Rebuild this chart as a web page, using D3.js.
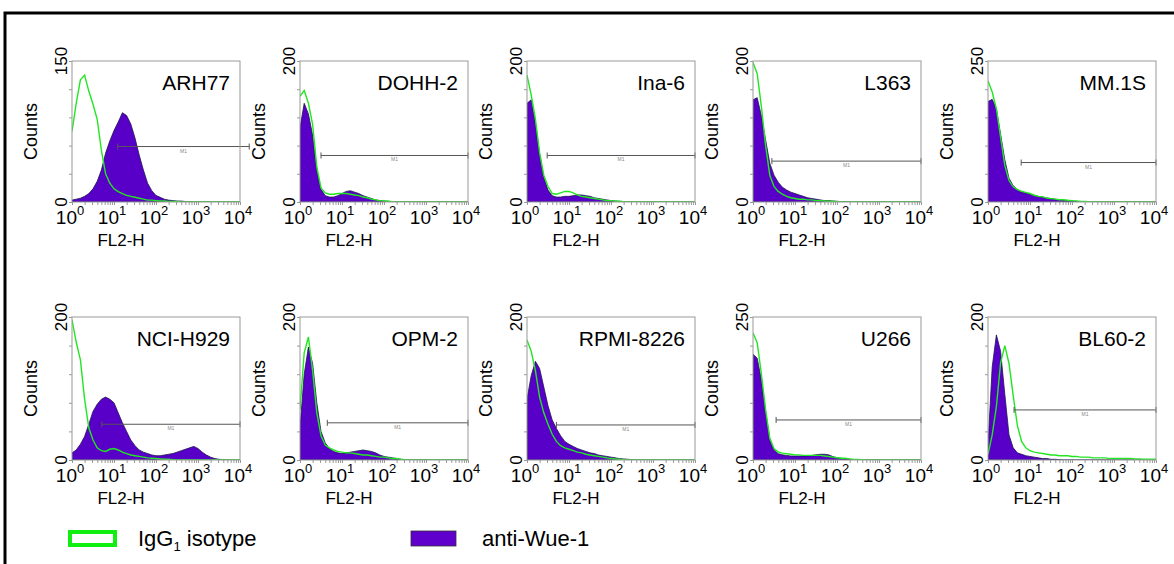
<!DOCTYPE html>
<html>
<head>
<meta charset="utf-8">
<script src="https://d3js.org/d3.v7.min.js"></script>
<style>
  body { margin: 0; background: #fff; }
  text { font-family: "Liberation Sans", Arial, sans-serif; fill: #000; }
</style>
</head>
<body>
<div id="vis"></div>
<script>
const width = 1174;
const height = 564;

const cellLines = ["ARH77", "DOHH-2", "Ina-6", "L363", "MM.1S", "NCI-H929", "OPM-2", "RPMI-8226", "U266", "BL60-2"];
const countMax = [150, 200, 200, 200, 250, 200, 200, 200, 250, 200];
// M1 marker: start / end in decades, height in counts
const gateFrom = [1.09, 0.5, 0.48, 0.45, 0.79, 0.71, 0.65, 0.7, 0.55, 0.62];
const gateTo = [4.22, 4, 4, 4, 4, 4, 4, 4, 4, 4];
const gateLevel = [59, 66, 66, 58, 70, 50, 52, 49, 70, 70];
const decadeLabels = ["0", "1", "2", "3", "4"];
const binStep = 0.1; // one count every 0.1 decade, 10^0 .. 10^4

// IgG1 isotype (green line) and anti-Wue-1 (purple fill), counts per channel
const isoARH77 = [75,105,130,135,118,104,88,55,30,20, 14,11,9,7,6,5,4,3,2,2, 1.5,1,1,0.5,0.5,0.5,0,0,0,0, 0,0,0,0,0,0,0,0,0,0, 0];
const wueARH77 = [2,3,4,6,9,14,22,34,52,65, 76,85,95,92,83,68,50,34,20,12, 7,5,3,2,1.5,1,1,0.5,0.5,0, 0,0,0,0,0,0,0,0,0,0, 0];
const isoDOHH2 = [150,158,140,110,50,20,13,11,11,12, 12,12,11,10,9,7,6,4,3,2, 1.5,1,0.5,0,0,0,0,0,0,0, 0,0,0,0,0,0,0,0,0,0, 0];
const wueDOHH2 = [105,140,125,95,45,18,9,7,7,9, 12,15,16,14,12,9,7,5,3,2, 1.5,1,0.5,0,0,0,0,0,0,0, 0,0,0,0,0,0,0,0,0,0, 0];
const isoIna6 = [180,152,118,70,38,22,12,11,13,15, 15,13,10,8,7,6,5,4,3,2, 2,1,1,0.5,0,0,0,0,0,0, 0,0,0,0,0,0,0,0,0,0, 0];
const wueIna6 = [140,145,112,68,35,17,9,7,7,8, 8,9,10,10,9,8,6,5,4,3, 2,1.5,1,0.5,0,0,0,0,0,0, 0,0,0,0,0,0,0,0,0,0, 0];
const isoL363 = [198,182,135,80,38,22,15,11,8,6, 5,4,4,3,3,2,2,1.5,1,1, 0.5,0,0,0,0,0,0,0,0,0, 0,0,0,0,0,0,0,0,0,0, 0];
const wueL363 = [145,148,122,88,55,38,28,21,17,14, 12,10,8,6,5,4,3,2,2,1.5, 1,0.5,0.5,0,0,0,0,0,0,0, 0,0,0,0,0,0,0,0,0,0, 0];
const isoMM1S = [215,195,165,115,65,38,27,22,19,17, 15,12,10,9,7,6,5,4,4,3, 2,2,1,1,0.5,0,0,0,0,0, 0,0,0,0,0,0,0,0,0,0, 0];
const wueMM1S = [178,182,165,120,75,42,29,22,18,16, 14,12,10,9,7,6,5,4,3,2, 2,1,1,0.5,0,0,0,0,0,0, 0,0,0,0,0,0,0,0,0,0, 0];
const isoH929 = [196,165,140,85,45,28,17,13,12,15, 16,14,11,9,7,6,5,4,3,2.5, 2,1.5,1,1,0.5,0,0,0,0,0, 0,0,0,0,0,0,0,0,0,0, 0];
const wueH929 = [10,14,22,33,50,68,78,85,88,85, 80,66,52,40,28,20,14,11,9,7, 6,6,7,8,9,11,13,15,17,19, 16,11,7,4,2,1,0.5,0,0,0, 0];
const isoOPM2 = [70,150,172,125,66,34,21,17,14,12, 11,10,10,9,8,7,7,6,5,4, 4,3,2,2,1,0.5,0,0,0,0, 0,0,0,0,0,0,0,0,0,0, 0];
const wueOPM2 = [45,120,158,135,80,40,24,16,12,10, 9,10,11,12,13,14,13,12,10,7, 5,4,3,2,1,0.5,0,0,0,0, 0,0,0,0,0,0,0,0,0,0, 0];
const isoRPMI = [168,152,125,88,66,50,36,26,20,17, 15,13,11,10,8,7,6,5,4,3, 2,1.5,1,0.5,0,0,0,0,0,0, 0,0,0,0,0,0,0,0,0,0, 0];
const wueRPMI = [85,118,138,128,102,76,56,44,34,26, 22,19,16,14,12,10,9,7,6,5, 4,3,2,1.5,1,0.5,0,0,0,0, 0,0,0,0,0,0,0,0,0,0, 0];
const isoU266 = [222,205,150,88,38,20,14,12,11,10, 9,9,8,8,8,8,8,7,6,5, 4,3,3,2,1,1,0.5,0,0,0, 0,0,0,0,0,0,0,0,0,0, 0];
const wueU266 = [185,178,140,85,36,18,11,9,8,7, 7,7,7,7,8,9,10,10,9,6, 4,3,2,1,0.5,0,0,0,0,0, 0,0,0,0,0,0,0,0,0,0, 0];
const isoBL602 = [8,35,75,136,160,135,90,48,26,17, 13,11,10,9,8,7,7,6,6,6, 5,5,4,4,4,3,3,3,3,2, 2,2,2,2,2,1.5,1.5,1,1,1, 1];
const wueBL602 = [20,130,175,152,92,35,17,10,8,6, 5,4,3,2,2,1,1,0.5,0,0, 0,0,0,0,0,0,0,0,0,0, 0,0,0,0,0,0,0,0,0,0, 0];

const isotypeSeries = [isoARH77, isoDOHH2, isoIna6, isoL363, isoMM1S, isoH929, isoOPM2, isoRPMI, isoU266, isoBL602];
const wueSeries = [wueARH77, wueDOHH2, wueIna6, wueL363, wueMM1S, wueH929, wueOPM2, wueRPMI, wueU266, wueBL602];

// layout of the 5 x 2 grid
const colLeft = [72, 300, 527, 753, 988];
const rowTop = [61, 317];
const rowH = [141, 143];
const plotW = 168;

const green = "#22e622";
const purple = "#5800c8";

const svg = d3.select("#vis").append("svg")
  .attr("width", width)
  .attr("height", height);

// outer frame
svg.append("rect")
  .attr("x", 5).attr("y", 13)
  .attr("width", 1200).attr("height", 600)
  .attr("fill", "none")
  .attr("stroke", "#000")
  .attr("stroke-width", 3);

cellLines.forEach(function (name, i) {
  const col = i % 5;
  const row = Math.floor(i / 5);
  const h = rowH[row];
  const g = svg.append("g")
    .attr("transform", "translate(" + colLeft[col] + "," + rowTop[row] + ")");

  const x = d3.scaleLog().domain([1, 1e4]).range([0, plotW]);
  const y = d3.scaleLinear().domain([0, countMax[i]]).range([h, 0]);

  g.append("clipPath").attr("id", "clip" + i)
    .append("rect").attr("width", plotW).attr("height", h);

  const area = d3.area()
    .x((d, j) => x(Math.pow(10, j * binStep)))
    .y0(h)
    .y1(d => y(d));
  const line = d3.line()
    .x((d, j) => x(Math.pow(10, j * binStep)))
    .y(d => y(d));

  const plot = g.append("g").attr("clip-path", "url(#clip" + i + ")");
  plot.append("path")
    .attr("d", area(wueSeries[i]))
    .attr("fill", purple)
    .attr("stroke", "#1c1450")
    .attr("stroke-width", 0.8);
  plot.append("path")
    .attr("d", line(isotypeSeries[i]))
    .attr("fill", "none")
    .attr("stroke", green)
    .attr("stroke-width", 1.4);

  // M1 marker
  const gx0 = x(Math.pow(10, gateFrom[i]));
  const gx1 = x(Math.pow(10, gateTo[i]));
  const gy = y(gateLevel[i]);
  const gate = g.append("g").attr("stroke", "#555").attr("stroke-width", 1);
  gate.append("line").attr("x1", gx0).attr("x2", gx1).attr("y1", gy).attr("y2", gy);
  gate.append("line").attr("x1", gx0).attr("x2", gx0).attr("y1", gy - 3).attr("y2", gy + 3);
  gate.append("line").attr("x1", gx1).attr("x2", gx1).attr("y1", gy - 3).attr("y2", gy + 3);
  g.append("text")
    .attr("x", (gx0 + gx1) / 2).attr("y", gy + 6)
    .attr("text-anchor", "middle")
    .style("font-size", "5px")
    .style("fill", "#888")
    .text("M1");

  // minor ticks
  const xAxis = g.append("g")
    .attr("transform", "translate(0," + h + ")")
    .call(d3.axisBottom(x).tickValues(x.ticks()).tickSize(3).tickFormat(""));
  const yAxis = g.append("g")
    .call(d3.axisLeft(y).tickValues(d3.range(0, countMax[i] + 1, countMax[i] / 5)).tickSize(3).tickFormat(""));
  [xAxis, yAxis].forEach(a => {
    a.select(".domain").remove();
    a.selectAll("line").attr("stroke", "#999");
  });

  // box
  g.append("rect")
    .attr("width", plotW).attr("height", h)
    .attr("fill", "none")
    .attr("stroke", "#999")
    .attr("stroke-width", 1);

  // decade labels
  decadeLabels.forEach(function (e, k) {
    const t = g.append("text")
      .attr("x", x(Math.pow(10, k)) - 2)
      .attr("y", h + 22)
      .attr("text-anchor", "middle")
      .style("font-size", "19px")
      .text("10");
    t.append("tspan")
      .attr("dy", -9)
      .style("font-size", "13px")
      .text(e);
  });

  g.append("text")
    .attr("x", 49).attr("y", h + 44)
    .attr("text-anchor", "middle")
    .style("font-size", "17px")
    .text("FL2-H");

  // y labels
  [0, countMax[i]].forEach(function (v) {
    g.append("text")
      .attr("transform", "translate(-5," + y(v) + ") rotate(-90)")
      .attr("text-anchor", "middle")
      .style("font-size", "17px")
      .text(v);
  });
  g.append("text")
    .attr("transform", "translate(-35," + (h / 2) + ") rotate(-90)")
    .attr("text-anchor", "middle")
    .style("font-size", "18px")
    .text("Counts");

  g.append("text")
    .attr("x", plotW - 10).attr("y", 29)
    .attr("text-anchor", "end")
    .style("font-size", "21px")
    .text(name);
});

// legend
svg.append("rect")
  .attr("x", 70).attr("y", 532)
  .attr("width", 45).attr("height", 13)
  .attr("fill", "#fff")
  .attr("stroke", "#11ee11")
  .attr("stroke-width", 4);
const lg = svg.append("text")
  .attr("x", 138).attr("y", 546)
  .style("font-size", "22px")
  .text("IgG");
lg.append("tspan").attr("dy", 5).style("font-size", "13px").text("1");
lg.append("tspan").attr("dy", -5).text(" isotype");

svg.append("rect")
  .attr("x", 411).attr("y", 531)
  .attr("width", 45).attr("height", 15)
  .attr("fill", "#6000cc")
  .attr("stroke", "#333")
  .attr("stroke-width", 0.8);
svg.append("text")
  .attr("x", 482).attr("y", 546)
  .style("font-size", "22px")
  .text("anti-Wue-1");
</script>
</body>
</html>
